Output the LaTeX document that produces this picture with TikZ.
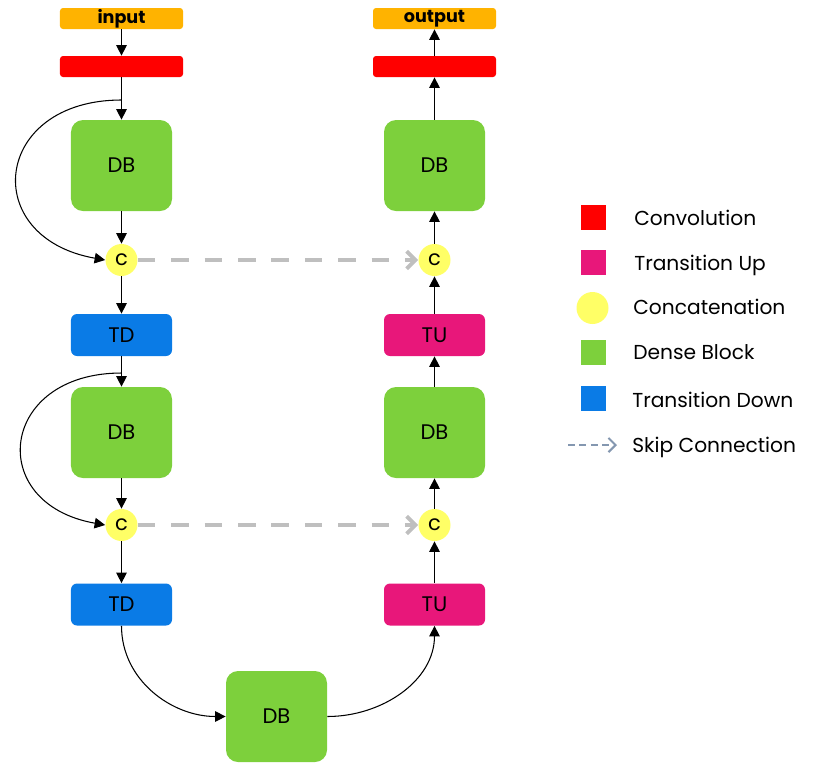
\documentclass[tikz,border=0pt]{standalone}
\usepackage{fontspec}
\setmainfont{Poppins}
\usetikzlibrary{arrows.meta}

\definecolor{Orange}{HTML}{FFB300}
\definecolor{Red}{HTML}{FF0000}
\definecolor{Green}{HTML}{7DD03C}
\definecolor{Blue}{HTML}{0A7BE6}
\definecolor{Pink}{HTML}{E8177A}
\definecolor{Yellow}{HTML}{FFFF66}
\definecolor{Skip}{HTML}{BFBFBF}
\definecolor{SkipKey}{HTML}{8497B0}

\tikzstyle{IO} = [rectangle, fill=Orange, rounded corners=0.06cm,
                  minimum width=2.46cm, minimum height=0.42cm,
                  inner sep=0pt, font=\bfseries]
\tikzstyle{Conv} = [rectangle, fill=Red, rounded corners=0.06cm,
                    minimum width=2.46cm, minimum height=0.42cm, inner sep=0pt]
\tikzstyle{Dense} = [rectangle, fill=Green, rounded corners=0.24cm,
                     minimum width=2.02cm, minimum height=1.82cm,
                     font=\large]
\tikzstyle{Trans} = [rectangle, rounded corners=0.12cm,
                     minimum width=2.02cm, minimum height=0.84cm,
                     font=\large]
\tikzstyle{Concat} = [circle, fill=Yellow, minimum size=0.64cm,
                      inner sep=0pt, font=\large]
\tikzstyle{Key} = [rectangle, minimum size=0.5cm, inner sep=0pt]
\tikzstyle{KeyText} = [anchor=base west, inner sep=0pt,
                       font=\fontsize{11.5}{13}\selectfont]
\tikzstyle{Flow} = [-{Triangle[width=6pt,length=6pt]}, line width=0.6pt]
\tikzstyle{SkipLine} = [-{Straight Barb[length=5pt,width=10pt]}, draw=Skip,
                        line width=2.2pt, dash pattern=on 10pt off 9pt]

\begin{document}
\begin{tikzpicture}

    \useasboundingbox (0, 0) rectangle (16.3, -15.4);

    % Down path
    \node (input) at (2.43, -0.37) [IO]{input};
    \node (conv1) at (2.43, -1.33) [Conv]{};
    \node (db1) at (2.43, -3.31) [Dense]{DB};
    \node (c1) at (2.43, -5.2) [Concat]{c};
    \node (td1) at (2.43, -6.7) [Trans, fill=Blue]{TD};
    \node (db2) at (2.43, -8.65) [Dense]{DB};
    \node (c2) at (2.43, -10.5) [Concat]{c};
    \node (td2) at (2.43, -12.09) [Trans, fill=Blue]{TD};

    % Bottleneck
    \node (db3) at (5.53, -14.33) [Dense]{DB};

    % Up path
    \node (tu2) at (8.69, -12.09) [Trans, fill=Pink]{TU};
    \node (c4) at (8.69, -10.5) [Concat]{c};
    \node (db4) at (8.69, -8.65) [Dense]{DB};
    \node (tu1) at (8.69, -6.7) [Trans, fill=Pink]{TU};
    \node (c3) at (8.69, -5.2) [Concat]{c};
    \node (db5) at (8.69, -3.31) [Dense]{DB};
    \node (conv2) at (8.69, -1.33) [Conv]{};
    \node (output) at (8.69, -0.37) [IO]{output};

    % Legend
    \node (kconv) at (11.87, -4.34) [Key, fill=Red]{};
    \node (ktu) at (11.87, -5.24) [Key, fill=Pink]{};
    \node (kcat) at (11.85, -6.16) [Concat]{};
    \node (kdb) at (11.87, -7.04) [Key, fill=Green]{};
    \node (ktd) at (11.87, -7.96) [Key, fill=Blue]{};
    \coordinate (kskipa) at (11.36, -8.9);
    \coordinate (kskipb) at (12.34, -8.9);

    \node at (12.68, -4.5) [KeyText]{Convolution};
    \node at (12.68, -5.4) [KeyText]{Transition Up};
    \node at (12.66, -6.28) [KeyText]{Concatenation};
    \node at (12.66, -7.18) [KeyText]{Dense Block};
    \node at (12.64, -8.14) [KeyText]{Transition Down};
    \node at (12.64, -9.04) [KeyText]{Skip Connection};

    % Split points
    \coordinate (s1) at (2.43, -2.0);
    \coordinate (s2) at (2.43, -7.46);

    % Lines
    \draw [Flow] (input) -- (conv1);
    \draw [Flow] (conv1) -- (db1);
    \draw [Flow] (db1) -- (c1);
    \draw [Flow] (c1) -- (td1);
    \draw [Flow] (td1) -- (db2);
    \draw [Flow] (db2) -- (c2);
    \draw [Flow] (c2) -- (td2);

    \draw [Flow] (s1) to[out=180, in=170, looseness=2.05] (c1.west);
    \draw [Flow] (s2) to[out=180, in=170, looseness=2.05] (c2.west);

    \draw [Flow] (td2) to[out=-90, in=180] (db3.west);
    \draw [Flow] (db3.east) to[out=0, in=-90] (tu2);

    \draw [Flow] (tu2) -- (c4);
    \draw [Flow] (c4) -- (db4);
    \draw [Flow] (db4) -- (tu1);
    \draw [Flow] (tu1) -- (c3);
    \draw [Flow] (c3) -- (db5);
    \draw [Flow] (db5) -- (conv2);
    \draw [Flow] (conv2) -- (output);

    \draw [SkipLine] (c1) -- (c3);
    \draw [SkipLine] (c2) -- (c4);

    \draw [-{Straight Barb[length=4pt,width=8pt]}, draw=SkipKey, line width=1.2pt,
           dash pattern=on 4pt off 2.5pt] (kskipa) -- (kskipb);

\end{tikzpicture}
\end{document}
